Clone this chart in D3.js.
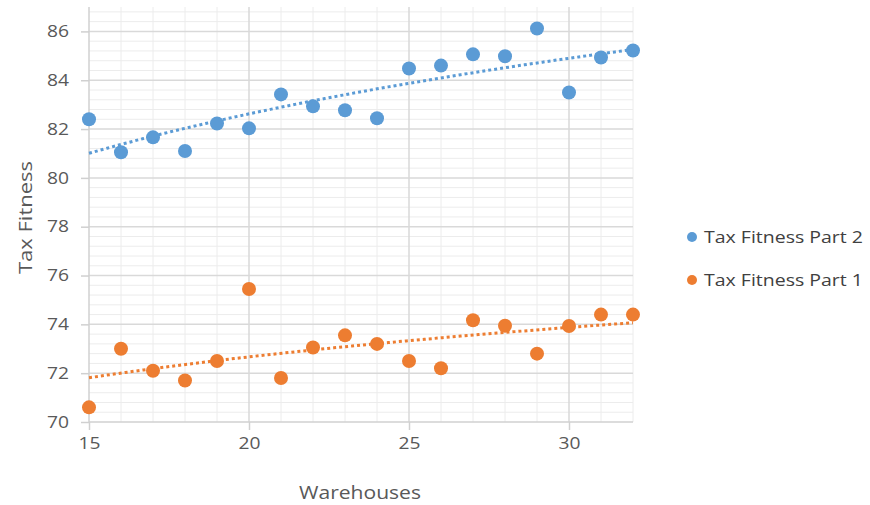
<!DOCTYPE html>
<html>
<head>
<meta charset="utf-8">
<script src="https://cdn.jsdelivr.net/npm/d3@7"></script>
<style>
  html, body { margin: 0; padding: 0; background: #ffffff; }
  svg { display: block; font-family: "Open Sans", "Noto Sans", sans-serif; }
</style>
</head>
<body>
<svg id="chart" width="870" height="505"></svg>
<script>
// Warehouse counts shared by both series
const warehouses = [15, 16, 17, 18, 19, 20, 21, 22, 23, 24, 25, 26, 27, 28, 29, 30, 31, 32];
// Tax Fitness Part 2 (blue)
const part2 = [82.4, 81.05, 81.66, 81.1, 82.23, 82.03, 83.42, 82.93, 82.77, 82.44, 84.48, 84.6, 85.06, 84.98, 86.12, 83.5, 84.93, 85.22];
// Tax Fitness Part 1 (orange)
const part1 = [70.6, 73.0, 72.1, 71.7, 72.5, 75.45, 71.8, 73.05, 73.55, 73.2, 72.5, 72.2, 74.17, 73.94, 72.8, 73.93, 74.4, 74.4];
const xTicks = [15, 20, 25, 30];
const yTicks = [70, 72, 74, 76, 78, 80, 82, 84, 86];
const seriesNames = ["Tax Fitness Part 2", "Tax Fitness Part 1"];
const seriesColors = ["#5B9BD5", "#ED7D31"];

const svg = d3.select("#chart");
const plot = { left: 89, right: 633, top: 7, bottom: 422 };

const x = d3.scaleLinear().domain([15, 32]).range([plot.left, plot.right]);
const y = d3.scaleLinear().domain([70, 87]).range([plot.bottom, plot.top]);

const grid = svg.append("g");

// minor grid: every warehouse, every 0.4 units
grid.selectAll("line.vminor")
  .data(d3.range(16, 33, 1).filter(v => v % 5 !== 0))
  .join("line")
  .attr("x1", d => x(d)).attr("x2", d => x(d))
  .attr("y1", plot.top).attr("y2", plot.bottom)
  .attr("stroke", "#ececec").attr("stroke-width", 1);
grid.selectAll("line.hminor")
  .data(d3.range(0, 43).map(i => 70 + i * 0.4).filter(v => Math.abs(v / 2 - Math.round(v / 2)) > 1e-6 && v <= 87))
  .join("line")
  .attr("x1", plot.left).attr("x2", plot.right)
  .attr("y1", d => y(d)).attr("y2", d => y(d))
  .attr("stroke", "#ececec").attr("stroke-width", 1);

// major grid
grid.selectAll("line.vmajor")
  .data(xTicks.filter(v => v !== 15))
  .join("line")
  .attr("x1", d => x(d)).attr("x2", d => x(d))
  .attr("y1", plot.top).attr("y2", plot.bottom)
  .attr("stroke", "#d9d9d9").attr("stroke-width", 1.5);
grid.selectAll("line.hmajor")
  .data(yTicks.filter(v => v !== 70))
  .join("line")
  .attr("x1", plot.left).attr("x2", plot.right)
  .attr("y1", d => y(d)).attr("y2", d => y(d))
  .attr("stroke", "#d9d9d9").attr("stroke-width", 1.5);

// axes
const xAxis = d3.axisBottom(x).tickValues(xTicks).tickSize(8).tickPadding(7).tickFormat(d3.format("d"));
const yAxis = d3.axisLeft(y).tickValues(yTicks).tickSize(8).tickPadding(12).tickFormat(d3.format("d"));

const gx = svg.append("g").attr("transform", `translate(0,${plot.bottom})`).call(xAxis);
const gy = svg.append("g").attr("transform", `translate(${plot.left},0)`).call(yAxis);
[gx, gy].forEach(g => {
  g.select(".domain").attr("stroke", "#d0d0d0").attr("stroke-width", 1.5);
  g.selectAll(".tick line").attr("stroke", "#d0d0d0").attr("stroke-width", 1.5);
  g.selectAll(".tick text").attr("fill", "#595959").attr("font-size", 16.5)
    .attr("font-family", "'Open Sans', sans-serif")
    .attr("textLength", 22).attr("lengthAdjust", "spacingAndGlyphs");
});
gy.select(".domain").attr("d", `M0,${plot.top}V${plot.bottom}`);
gx.select(".domain").attr("d", `M${plot.left},0H${plot.right}`);

// axis titles
svg.append("text")
  .attr("x", 360).attr("y", 499)
  .attr("text-anchor", "middle")
  .attr("fill", "#595959").attr("font-size", 18)
  .attr("textLength", 122).attr("lengthAdjust", "spacingAndGlyphs")
  .text("Warehouses");
svg.append("text")
  .attr("transform", `translate(32,${(plot.top + plot.bottom) / 2 + 3}) rotate(-90)`)
  .attr("text-anchor", "middle")
  .attr("fill", "#595959").attr("font-size", 18)
  .attr("textLength", 113).attr("lengthAdjust", "spacingAndGlyphs")
  .text("Tax Fitness");

// logarithmic trendline: y = a + b·ln(x), fitted by least squares
function logTrend(xs, ys) {
  const lx = xs.map(Math.log);
  const mx = d3.mean(lx), my = d3.mean(ys);
  const b = d3.sum(lx, (v, i) => (v - mx) * (ys[i] - my)) / d3.sum(lx, v => (v - mx) ** 2);
  const a = my - b * mx;
  return d3.range(0, 61).map(i => {
    const v = 15 + (32 - 15) * i / 60;
    return [v, a + b * Math.log(v)];
  });
}

const series = [part2, part1];
const line = d3.line().x(d => x(d[0])).y(d => y(d[1]));

series.forEach((vals, si) => {
  svg.append("path")
    .datum(logTrend(warehouses, vals))
    .attr("d", line)
    .attr("fill", "none")
    .attr("stroke", seriesColors[si])
    .attr("stroke-width", 3)
    .attr("stroke-dasharray", "3,3");
});

series.forEach((vals, si) => {
  svg.append("g").selectAll("circle")
    .data(vals.map((v, i) => [warehouses[i], v]))
    .join("circle")
    .attr("cx", d => x(d[0]))
    .attr("cy", d => y(d[1]))
    .attr("r", 7)
    .attr("fill", seriesColors[si]);
});

// legend
const legend = svg.append("g");
seriesNames.forEach((name, i) => {
  const ly = 237 + i * 43;
  legend.append("circle").attr("cx", 692).attr("cy", ly).attr("r", 5).attr("fill", seriesColors[i]);
  legend.append("text")
    .attr("x", 704).attr("y", ly + 6)
    .attr("fill", "#404040").attr("font-size", 17)
    .attr("textLength", 159).attr("lengthAdjust", "spacingAndGlyphs")
    .text(name);
});
</script>
</body>
</html>
